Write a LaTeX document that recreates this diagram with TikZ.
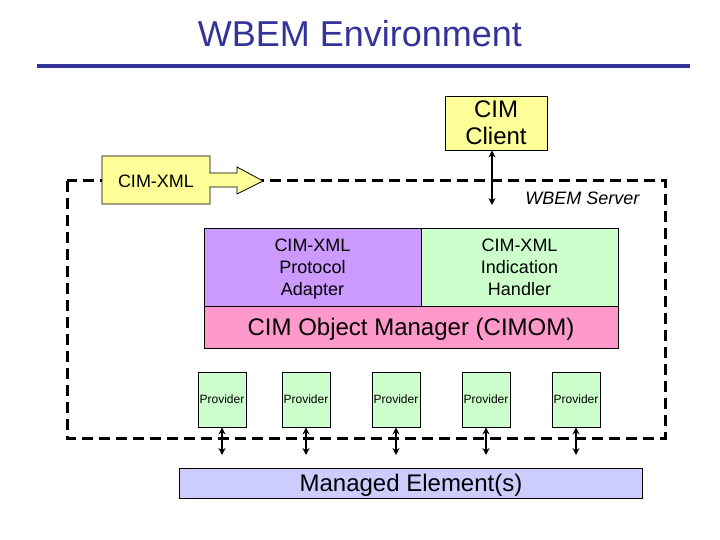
\documentclass[tikz,border=0pt]{standalone}
\usepackage{fontspec}
\setmainfont{Liberation Sans}
\usetikzlibrary{arrows.meta}

\definecolor{titleblue}{RGB}{51,51,153}
\definecolor{clientyellow}{RGB}{255,255,153}
\definecolor{adapterpurple}{RGB}{204,153,255}
\definecolor{handlergreen}{RGB}{204,255,204}
\definecolor{cimompink}{RGB}{255,153,204}
\definecolor{elementblue}{RGB}{204,204,255}

\tikzset{
    box/.style={draw, line width=0.8pt, inner sep=0pt, align=center, text depth=0pt},
    midtext/.style={font=\fontsize{18}{22}\selectfont},
    bigtext/.style={font=\fontsize{24}{27}\selectfont},
    dbl/.style={{Stealth[length=7pt,width=7pt]}-{Stealth[length=7pt,width=7pt]}, line width=2.2pt},
}

\begin{document}
\begin{tikzpicture}[x=1pt, y=-1pt]
    \useasboundingbox (0,0) rectangle (720,540);

    % title
    \node[titleblue, font=\fontsize{36}{40}\selectfont] (title) at (360,34) {WBEM Environment};
    \draw[titleblue, line width=4pt] (37,66) -- (690,66);

    % server border
    \draw[line width=3pt, dash pattern=on 11pt off 6pt] (67,181) rectangle (665,438);
    \node[anchor=east, font=\fontsize{18}{22}\selectfont\itshape] (server) at (643,198) {WBEM Server};

    % client
    \node[box, bigtext, fill=clientyellow, minimum width=102pt, minimum height=54pt]
        (client) at (496,123) {CIM\\Client};
    \coordinate (cend) at (492,205);
    \draw[dbl] (cend |- client.south) -- (cend);

    % CIM-XML arrow
    \draw[line width=0.8pt, fill=clientyellow]
        (102,156) -- (210,156) -- (210,173) -- (237,173) -- (237,167)
        -- (263,181) -- (237,194) -- (237,187) -- (210,187)
        -- (210,204) -- (102,204) -- cycle;
    \node[midtext] (xml) at (156,181) {CIM-XML};

    % CIMOM stack
    \node[box, midtext, fill=adapterpurple, minimum width=217pt, minimum height=78pt]
        (adapter) at (312.5,267) {CIM-XML\\Protocol\\Adapter};
    \node[box, midtext, fill=handlergreen, minimum width=197pt, minimum height=78pt]
        (handler) at (519.5,267) {CIM-XML\\Indication\\Handler};
    \node[box, bigtext, fill=cimompink, minimum width=414pt, minimum height=42pt]
        (cimom) at (411,327) {CIM Object Manager (CIMOM)};

    % managed elements
    \node[box, bigtext, fill=elementblue, minimum width=463pt, minimum height=30pt]
        (managed) at (411,483) {Managed Element(s)};

    % providers
    \foreach \x [count=\i] in {222,306,396,486,576} {
        \node[box, font=\fontsize{12}{14}\selectfont, fill=handlergreen,
            minimum width=48pt, minimum height=55pt] (p\i) at (\x,399.5) {Provider};
        \coordinate (e\i) at (\x,455);
        \draw[dbl] (p\i.south) -- (e\i);
    }
\end{tikzpicture}
\end{document}
